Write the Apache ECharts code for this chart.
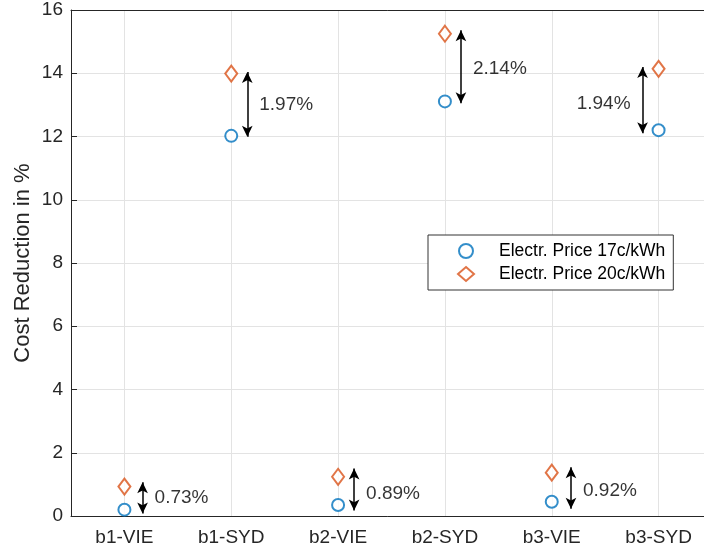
<!DOCTYPE html>
<html>
<head>
<meta charset="UTF-8">
<title></title>
<script src="https://cdn.jsdelivr.net/npm/echarts@6/dist/echarts.min.js"></script>
<style>
  html, body { margin: 0; padding: 0; background: #fff; }
  #chart { width: 704px; height: 552px; }
</style>
</head>
<body>
<div id="chart"></div>
<script>
// data
var categories = ['b1-VIE', 'b1-SYD', 'b2-VIE', 'b2-SYD', 'b3-VIE', 'b3-SYD'];
var price17 = [0.20, 12.02, 0.35, 13.11, 0.45, 12.20];
var price20 = [0.93, 13.99, 1.24, 15.25, 1.37, 14.14];
var diffLabels = ['0.73%', '1.97%', '0.89%', '2.14%', '0.92%', '1.94%'];
// double arrows (x in category units, y range)
var arrowX = [0.17, 1.15, 2.15, 3.15, 4.18, 4.85];
var arrowLow = [0.08, 11.99, 0.17, 13.05, 0.23, 12.10];
var arrowHigh = [1.07, 14.04, 1.50, 15.36, 1.54, 14.20];
var labelY = [0.59, 13.00, 0.71, 14.13, 0.81, 13.02];
var labelSide = ['right', 'right', 'right', 'right', 'right', 'left'];
var yTicks = [0, 16, 2];

var font = 'Liberation Sans, Arial, Helvetica, sans-serif';
var axisColor = '#262626';
var gridColor = '#e3e3e3';

var arrowLines = [];
var labelPoints = [];
for (var i = 0; i < arrowX.length; i++) {
  arrowLines.push([{ coord: [arrowX[i], arrowLow[i]] }, { coord: [arrowX[i], arrowHigh[i]] }]);
  labelPoints.push({
    value: [arrowX[i], labelY[i]],
    label: { show: true, position: labelSide[i], formatter: diffLabels[i] }
  });
}

var chart = echarts.init(document.getElementById('chart'));
var option = {
  animation: false,
  backgroundColor: '#fff',
  textStyle: { fontFamily: font },
  // plot runs past the right edge of the picture
  grid: { left: 71, width: 641, top: 10, bottom: 36, outerBoundsMode: 'none', containLabel: false },
  legend: {
    orient: 'vertical',
    left: 428,
    top: 235,
    data: ['Electr. Price 17c/kWh', 'Electr. Price 20c/kWh'],
    backgroundColor: '#fff',
    borderColor: '#333',
    borderWidth: 1,
    borderRadius: 0,
    padding: [6, 8, 6, 29],
    itemWidth: 16,
    itemHeight: 14,
    itemGap: 3,
    selectedMode: false,
    textStyle: { fontFamily: font, fontSize: 17.5, color: '#000', lineHeight: 20, padding: [0, 0, 0, 20] }
  },
  xAxis: [
    {
      type: 'category',
      data: categories,
      boundaryGap: true,
      position: 'bottom',
      axisLine: { lineStyle: { color: axisColor, width: 1 } },
      axisTick: { alignWithLabel: true, inside: true, length: 6, lineStyle: { color: axisColor } },
      axisLabel: { color: axisColor, fontSize: 19, fontFamily: font, margin: 12 },
      splitLine: { show: true, alignWithLabel: true, lineStyle: { color: gridColor } }
    },
    {
      type: 'category',
      data: categories,
      boundaryGap: true,
      position: 'top',
      axisLine: { lineStyle: { color: axisColor, width: 1 } },
      axisTick: { alignWithLabel: true, inside: true, length: 6, lineStyle: { color: axisColor } },
      axisLabel: { show: false },
      splitLine: { show: false }
    },
    {
      type: 'value',
      min: -0.5,
      max: 5.5,
      show: false
    }
  ],
  yAxis: {
    type: 'value',
    min: yTicks[0],
    max: yTicks[1],
    interval: yTicks[2],
    name: 'Cost Reduction in %',
    nameLocation: 'middle',
    nameGap: 37,
    nameMoveOverlap: false,
    nameTextStyle: { color: axisColor, fontSize: 22, fontFamily: font },
    axisLine: { show: true, onZero: false, lineStyle: { color: axisColor, width: 1 } },
    axisTick: { show: true, inside: true, length: 6, lineStyle: { color: axisColor } },
    axisLabel: { color: axisColor, fontSize: 19, fontFamily: font, margin: 8 },
    splitLine: { show: true, lineStyle: { color: gridColor } }
  },
  series: [
    {
      name: 'Electr. Price 17c/kWh',
      type: 'scatter',
      xAxisIndex: 0,
      data: price17,
      symbol: 'emptyCircle',
      symbolSize: 12,
      itemStyle: { color: '#0072BD', borderColor: '#0072BD', borderWidth: 1.1 },
      z: 5
    },
    {
      name: 'Electr. Price 20c/kWh',
      type: 'scatter',
      xAxisIndex: 0,
      data: price20,
      symbol: 'emptyDiamond',
      symbolSize: [12, 16],
      itemStyle: { color: '#D95319', borderColor: '#D95319', borderWidth: 1.1 },
      z: 5
    },
    {
      name: 'diff',
      type: 'scatter',
      xAxisIndex: 2,
      data: labelPoints,
      symbolSize: 0,
      silent: true,
      label: { color: '#000', fontSize: 19, fontFamily: font, distance: 12 },
      markLine: {
        silent: true,
        symbol: ['arrow', 'arrow'],
        symbolSize: [8, 11],
        label: { show: false },
        lineStyle: { color: '#000', width: 1.5, type: 'solid' },
        data: arrowLines
      }
    }
  ]
};
chart.setOption(option);
</script>
</body>
</html>
